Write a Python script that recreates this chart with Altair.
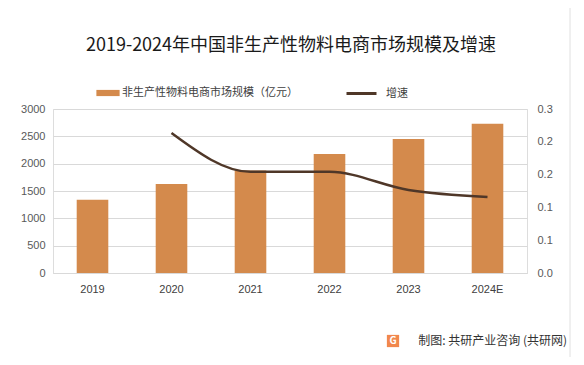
import altair as alt
import pandas as pd

years = ["2019", "2020", "2021", "2022", "2023", "2024E"]
market_size = [1340, 1630, 1877, 2177, 2451, 2731]
growth = [None, 0.256, 0.185, 0.185, 0.152, 0.139]

bar_label = "非生产性物料电商市场规模（亿元）"
line_label = "增速"
title_text = "2019-2024年中国非生产性物料电商市场规模及增速"
source_text = "制图: 共研产业咨询 (共研网)"

BAR_COLOR = "#D48A4C"
LINE_COLOR = "#4F3728"
FONT = "Noto Sans CJK SC"

df = pd.DataFrame({"year": years, "size": market_size, "growth": growth})

x_enc = alt.X(
    "year:N",
    sort=years,
    scale=alt.Scale(paddingInner=0.6, paddingOuter=0.3),
    axis=alt.Axis(
        title=None, labelAngle=0, ticks=False, domain=True, domainColor="#d9d9d9",
        grid=False, labelPadding=10, labelFontSize=11, labelColor="#404040",
    ),
)

bars = (
    alt.Chart(df)
    .transform_calculate(series=f"'{bar_label}'")
    .mark_bar(color=BAR_COLOR)
    .encode(
        x=x_enc,
        y=alt.Y(
            "size:Q",
            scale=alt.Scale(domain=[0, 3000]),
            axis=alt.Axis(
                title=None, values=[0, 500, 1000, 1500, 2000, 2500, 3000], format="d",
                grid=True, gridColor="#d9d9d9", domain=False, ticks=False,
                labelPadding=8, labelFontSize=11, labelColor="#595959",
            ),
        ),
        fill=alt.Fill(
            "series:N",
            scale=alt.Scale(domain=[bar_label], range=[BAR_COLOR]),
            legend=alt.Legend(
                title=None, orient="none", legendX=47, legendY=-24,
                symbolType="M-1.5,-0.4H1.5V0.4H-1.5Z", symbolSize=240,
                symbolStrokeWidth=0, labelFontSize=11, labelColor="#404040",
                labelFont=FONT, labelOffset=6, labelLimit=0,
            ),
        ),
    )
)

line = (
    alt.Chart(df)
    .transform_filter("isValid(datum.growth)")
    .transform_calculate(series2=f"'{line_label}'")
    .mark_line(interpolate="monotone", strokeWidth=2.5, color=LINE_COLOR)
    .encode(
        x=x_enc,
        y=alt.Y(
            "growth:Q",
            scale=alt.Scale(domain=[0, 0.3]),
            axis=alt.Axis(
                title=None, orient="right", values=[0, 0.06, 0.12, 0.18, 0.24, 0.3],
                format=".1f", grid=False, domain=False, ticks=False,
                labelPadding=10, labelFontSize=11, labelColor="#595959",
            ),
        ),
        stroke=alt.Stroke(
            "series2:N",
            scale=alt.Scale(domain=[line_label], range=[LINE_COLOR]),
            legend=alt.Legend(
                title=None, orient="none", legendX=292, legendY=-32,
                symbolType="stroke", symbolSize=900, symbolStrokeWidth=3,
                labelFontSize=11, labelColor="#404040", labelFont=FONT,
                labelOffset=8, labelLimit=0,
            ),
        ),
    )
)

src_df = pd.DataFrame({"t": [source_text], "title": [title_text]})
title = (
    alt.Chart(src_df)
    .mark_text(align="center", baseline="middle", fontSize=18, font=FONT, color="#1a1a1a")
    .encode(text="title:N", x=alt.value(238), y=alt.value(-63))
)
source = (
    alt.Chart(src_df)
    .mark_text(align="right", baseline="middle", fontSize=12, font=FONT, color="#333333")
    .encode(text="t:N", x=alt.value(514), y=alt.value(232))
)
logo = (
    alt.Chart(src_df)
    .mark_square(size=150, color="#F07A3A", opacity=0.9)
    .encode(x=alt.value(340), y=alt.value(232))
)
logo_g = (
    alt.Chart(src_df)
    .mark_text(text="G", fontSize=10, fontWeight="bold", color="white", font=FONT,
               align="center", baseline="middle")
    .encode(x=alt.value(340), y=alt.value(232))
)
frame = (
    alt.Chart(src_df)
    .mark_rect(fillOpacity=0, stroke="#e0e0e0", strokeWidth=1)
    .encode(x=alt.value(-49), x2=alt.value(517), y=alt.value(-105), y2=alt.value(262))
)

chart = (
    alt.layer(frame, bars, line, title, source, logo, logo_g)
    .resolve_scale(y="independent", fill="independent", stroke="independent")
    .resolve_legend(fill="independent", stroke="independent")
    .properties(
        width=474,
        height=164,
        padding={"left": 45, "top": 101, "right": 49, "bottom": 84},
        autosize=alt.AutoSizeParams(type="none"),
    )
    .configure_view(stroke=None)
    .configure(font=FONT)
    .configure_axis(labelFont="Liberation Sans")
)

chart.save("out.html", embed_options={"renderer": "svg", "actions": False})
